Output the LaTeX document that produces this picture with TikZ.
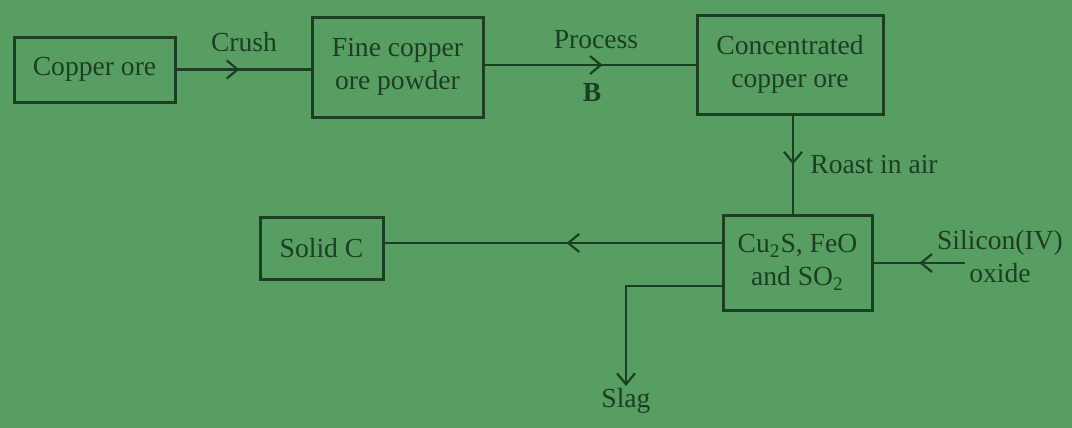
\documentclass[tikz,border=0pt]{standalone}
\usepackage{fontspec}
\setmainfont{Liberation Serif}
\usetikzlibrary{arrows.meta,decorations.markings}
\definecolor{paper}{RGB}{88,158,98}
\definecolor{ink}{RGB}{28,62,34}
\tikzset{
  box/.style={draw=ink, line width=1.5pt, inner sep=0pt, align=center, text=ink},
  lbl/.style={text=ink, inner sep=1pt, align=center},
  conn/.style={draw=ink, line width=1.1pt},
  midarrow/.style={postaction={decorate}, decoration={markings,
     mark=at position #1 with {\arrow{Straight Barb[length=5.5pt,width=9pt,line width=1.1pt]}}}},
  endarrow/.style={-{Straight Barb[length=5.5pt,width=9pt,line width=1.1pt]}}
}
\begin{document}
\begin{tikzpicture}[x=0.5pt,y=-0.5pt, font=\fontsize{13.8}{16.5}\selectfont]
\fill[paper] (0,0) rectangle (1072,428);
\useasboundingbox (0,0) rectangle (1072,428);
% boxes
\node[box, minimum width=80.5pt, minimum height=32.5pt] (co) at (94.5,69.5) {Copper ore};
\node[box, minimum width=85.5pt, minimum height=50pt] (fine) at (397.5,67) {Fine copper\\ore powder};
\node[box, minimum width=93pt, minimum height=49.5pt] (conc) at (790,64.5) {Concentrated\\copper ore};
\node[box, minimum width=74.5pt, minimum height=47.5pt] (cu) at (797.5,262.5) {Cu\textsubscript{2}S, FeO\\and SO\textsubscript{2}};
\node[box, minimum width=61.5pt, minimum height=31pt] (solid) at (321.5,248) {Solid C};
% labels
\node[lbl] (crush) at (244,42) {Crush};
\node[lbl] (process) at (596,40) {Process};
\node[lbl] (b) at (592,93) {\textbf{B}};
\node[lbl, anchor=west] (roast) at (808,164) {Roast in air};
\node[lbl] (sil) at (1000,257) {Silicon(IV)\\oxide};
\node[lbl, anchor=north] (slag) at (626,386) {Slag};
% helper coordinates
\coordinate (vx) at (793,0);
\coordinate (silend) at (965,263);
\coordinate (ysolid) at (0,243);
\coordinate (yslag) at (0,286);
% connectors
\draw[conn, midarrow=0.47] (co.east) -- (co.east -| fine.west);
\draw[conn, midarrow=0.56] (fine.east |- 0,65) -- (conc.west |- 0,65);
\draw[conn, midarrow=0.5] (conc.south -| vx) -- (cu.north -| vx);
\draw[conn, midarrow=0.5] (silend) -- (silend -| cu.east);
\draw[conn, midarrow=0.46] (cu.west |- ysolid) -- (solid.east |- ysolid);
\draw[conn, endarrow] (cu.west |- yslag) -| (slag.north);
\end{tikzpicture}
\end{document}
